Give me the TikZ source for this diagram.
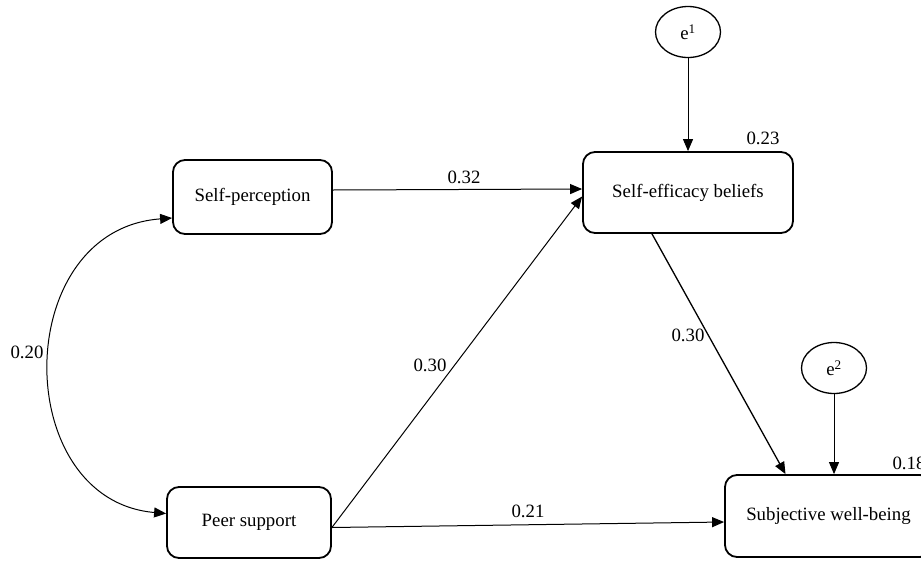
\documentclass[tikz,border=0pt]{standalone}
\usepackage{fontspec}
\setmainfont{Liberation Serif}
\usetikzlibrary{arrows.meta,shapes.geometric}
\begin{document}
\begin{tikzpicture}[x=1pt,y=-1pt,
	font=\fontsize{18.8}{21}\selectfont,
	var/.style={draw, line width=1.8pt, rounded corners=12pt, inner sep=0pt},
	err/.style={draw, ellipse, line width=1.3pt, inner sep=0pt, minimum width=65pt, minimum height=51pt},
	path/.style={line width=1pt, -{Triangle[length=12pt,width=10pt]}},
	coef/.style={inner sep=1pt}]
	\useasboundingbox (0,0) rectangle (921,560);
	\node[var, minimum width=159pt, minimum height=74pt] (sp) at (252.5,197) {Self-perception};
	\node[var, minimum width=164pt, minimum height=71pt] (ps) at (249,522.5) {Peer support};
	\node[var, minimum width=210pt, minimum height=81pt] (seb) at (688,192.5) {Self-efficacy beliefs};
	\node[var, minimum width=207pt, minimum height=82pt] (swb) at (828.5,516) {Subjective well-being};
	\node[err] (e1) at (688,32) {e\textsuperscript{1}};
	\node[err] (e2) at (834,368) {e\textsuperscript{2}};
	\draw[path] (e1) -- (seb);
	\draw[path] (e2) -- (swb.north -| e2);
	\draw[path] ([yshift=7pt]sp.east) -- ([yshift=3.5pt]seb.west);
	\draw[path] ([yshift=-5pt]ps.east) -- ([yshift=-4pt]seb.west);
	\draw[path] ([yshift=-5pt]ps.east) -- ([yshift=-6pt]swb.west);
	\draw[path, line width=1.3pt] ([xshift=-36pt]seb.south) -- ([xshift=-43pt]swb.north);
	\draw[line width=1pt, {Triangle[length=12pt,width=10pt]}-{Triangle[length=12pt,width=10pt]}] ([yshift=-21pt]sp.west) .. controls (10,230) and (10,500) .. ([yshift=9pt]ps.west);
	\node[coef] (c1) at (464,177) {0.32};
	\node[coef] (c2) at (430,365) {0.30};
	\node[coef] (c3) at (528,511) {0.21};
	\node[coef] (c4) at (688,335) {0.30};
	\node[coef] (c5) at (27,352) {0.20};
	\node[coef] (r1) at (763,138) {0.23};
	\node[coef] (r2) at (909,463) {0.18};
\end{tikzpicture}
\end{document}
